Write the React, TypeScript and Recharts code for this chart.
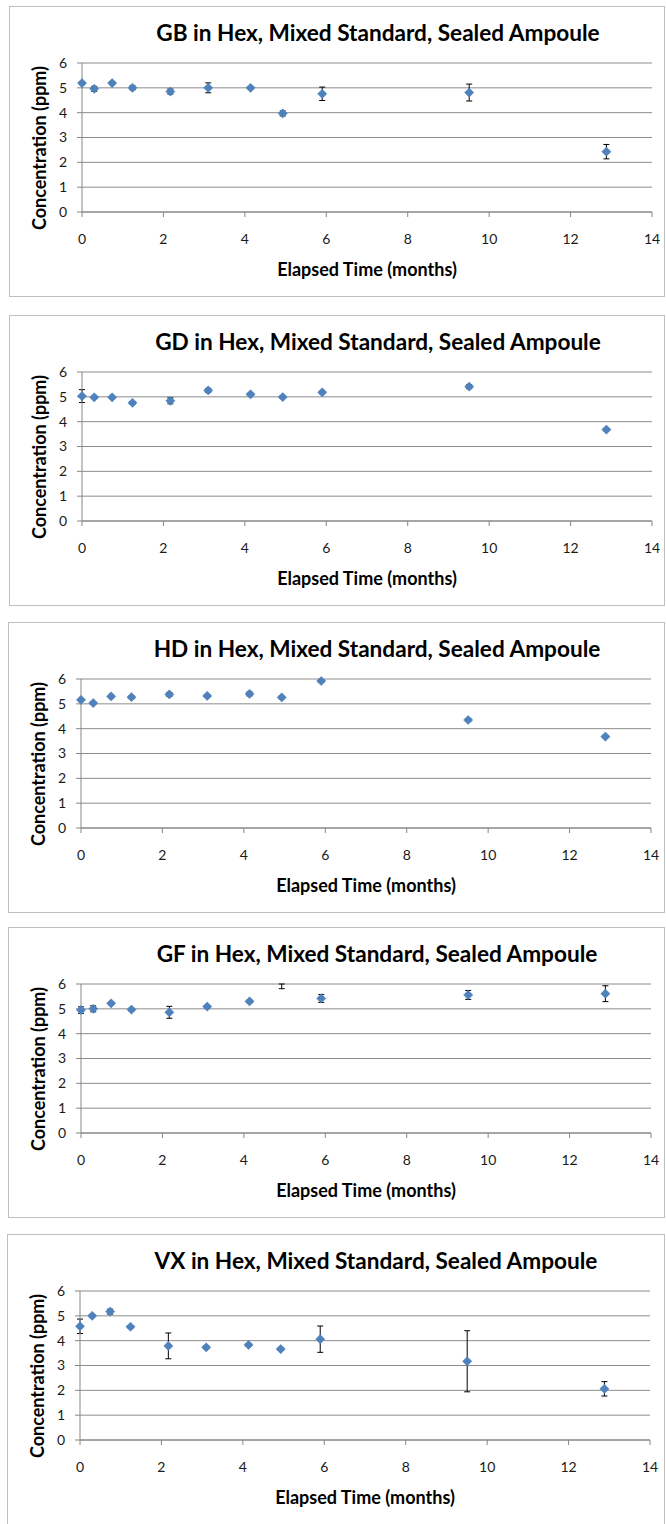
import React from 'react';
import { ScatterChart, Scatter, XAxis, YAxis, CartesianGrid, ErrorBar } from 'recharts';

const months = [0, 0.3, 0.74, 1.24, 2.17, 3.1, 4.14, 4.93, 5.9, 9.51, 12.88];

const gbValues = [5.19, 4.96, 5.19, 5.0, 4.85, 5.0, 5.0, 3.97, 4.76, 4.81, 2.43];
const gbErrors = [0.05, 0.1, 0.05, 0.08, 0.1, 0.2, 0.05, 0.1, 0.27, 0.34, 0.29];

const gdValues = [5.03, 4.98, 4.98, 4.76, 4.84, 5.26, 5.1, 4.99, 5.18, 5.41, 3.68];
const gdErrors = [0.26, 0.05, 0.05, 0.05, 0.12, 0.08, 0.05, 0.05, 0.05, 0.08, 0.05];

const hdValues = [5.16, 5.03, 5.3, 5.27, 5.38, 5.32, 5.4, 5.26, 5.92, 4.35, 3.68];
const hdErrors = [0.05, 0.05, 0.05, 0.05, 0.08, 0.05, 0.08, 0.05, 0.05, 0.05, 0.05];

const gfValues = [4.95, 5.0, 5.22, 4.97, 4.86, 5.09, 5.3, 6.12, 5.42, 5.56, 5.61];
const gfErrors = [0.13, 0.12, 0.05, 0.05, 0.24, 0.05, 0.05, 0.31, 0.16, 0.18, 0.32];

const vxValues = [4.58, 5.0, 5.17, 4.56, 3.79, 3.73, 3.83, 3.66, 4.06, 3.17, 2.06];
const vxErrors = [0.29, 0.05, 0.1, 0.05, 0.52, 0.05, 0.05, 0.05, 0.53, 1.23, 0.29];

const xTicks = [0, 2, 4, 6, 8, 10, 12, 14];
const yTicks = [0, 1, 2, 3, 4, 5, 6];
const Y_MAX = 6;

const agents = ['GB', 'GD', 'HD', 'GF', 'VX'];
const seriesValues = [gbValues, gdValues, hdValues, gfValues, vxValues];
const seriesErrors = [gbErrors, gdErrors, hdErrors, gfErrors, vxErrors];

const titleSuffix = ' in Hex, Mixed Standard, Sealed Ampoule';
const yTitle = 'Concentration (ppm)';
const xTitle = 'Elapsed Time (months)';

const boxLefts = [9, 9, 8, 8, 7];
const boxTops = [6, 315, 622, 927, 1234];
const boxHeights = [291, 291, 291, 291, 290];

const FONT = "Lato, 'Liberation Sans', sans-serif";
const MARKER = '#4F81BD';

const Diamond = (props: any) => {
  const { cx, cy, payload } = props;
  if (cx == null || cy == null) return null;
  if (payload && payload.y > Y_MAX) return null; // marker beyond axis maximum is not drawn
  const r = 4.6;
  return (
    <path
      d={`M${cx},${cy - r}L${cx + r},${cy}L${cx},${cy + r}L${cx - r},${cy}Z`}
      fill={MARKER}
      stroke="#4A7EBB"
      strokeWidth={0.5}
    />
  );
};

const PLOT_LEFT = 73;
const PLOT_RIGHT = 643;
const PLOT_TOP = 57;
const PLOT_BOTTOM = 206;

function Panel({ idx }: { idx: number }) {
  const left = boxLefts[idx];
  const top = boxTops[idx];
  const height = boxHeights[idx];
  const width = 666 - left - 1;
  // error range [below, above]; the part above the axis maximum is cut off as in the source
  const data = months.map((m, i) => {
    const v = seriesValues[idx][i];
    const e = seriesErrors[idx][i];
    return { x: m, y: v, err: [e, Math.min(e, Y_MAX - v)] };
  });
  const overflow = Math.max(...seriesValues[idx]) > Y_MAX;
  return (
    <div
      style={{
        position: 'absolute',
        left,
        top,
        width,
        height,
        boxSizing: 'border-box',
        border: '1px solid #bfbfbf',
        borderBottomWidth: idx === 4 ? 0 : 1,
        background: '#fff',
        fontFamily: FONT,
      }}
    >
      <div style={{ position: 'absolute', left: -1, top: -1 }}>
        <ScatterChart
          width={width}
          height={291}
          margin={{ top: PLOT_TOP, right: width - PLOT_RIGHT, left: 0, bottom: 291 - PLOT_BOTTOM - 30 }}
        >
          <CartesianGrid horizontal={true} vertical={false} stroke="#8c8c8c" strokeWidth={1} />
          <XAxis
            type="number"
            dataKey="x"
            domain={[0, 14]}
            ticks={xTicks}
            interval={0}
            height={30}
            stroke="#868686"
            tickSize={5}
            tickMargin={17}
            tick={{ fill: '#1a1a1a', fontSize: 14, fontFamily: FONT }}
          />
          <YAxis
            type="number"
            dataKey="y"
            domain={[0, Y_MAX]}
            ticks={yTicks}
            interval={0}
            width={PLOT_LEFT}
            stroke="#868686"
            tickSize={5}
            tickMargin={10}
            tick={{ fill: '#1a1a1a', fontSize: 14, fontFamily: FONT }}
            allowDataOverflow={overflow}
          />
          <Scatter data={data} shape={Diamond} isAnimationActive={false} fill={MARKER}>
            <ErrorBar dataKey="err" direction="y" width={3} stroke="#000" strokeWidth={1} />
          </Scatter>
        </ScatterChart>
        <div
          style={{
            position: 'absolute',
            left: 369 - 300,
            top: 27 - 14,
            width: 600,
            height: 28,
            lineHeight: '28px',
            textAlign: 'center',
            fontWeight: 700,
            fontSize: 22.6,
            color: '#000',
            whiteSpace: 'nowrap',
          }}
        >
          {agents[idx] + titleSuffix}
        </div>
        <div
          style={{
            position: 'absolute',
            left: (PLOT_LEFT + PLOT_RIGHT) / 2 - 150,
            top: PLOT_BOTTOM + 57 - 12,
            width: 300,
            height: 24,
            lineHeight: '24px',
            textAlign: 'center',
            fontWeight: 700,
            fontSize: 18,
            color: '#000',
            whiteSpace: 'nowrap',
          }}
        >
          {xTitle}
        </div>
        <div
          style={{
            position: 'absolute',
            left: 30 - 120,
            top: PLOT_TOP + 85 - 12,
            width: 240,
            height: 24,
            lineHeight: '24px',
            textAlign: 'center',
            fontWeight: 700,
            fontSize: 18,
            color: '#000',
            whiteSpace: 'nowrap',
            transform: 'rotate(-90deg)',
            transformOrigin: '50% 50%',
          }}
        >
          {yTitle}
        </div>
      </div>
    </div>
  );
}

export default function App() {
  return (
    <div>
      {agents.map((a, i) => (
        <Panel key={a} idx={i} />
      ))}
    </div>
  );
}
